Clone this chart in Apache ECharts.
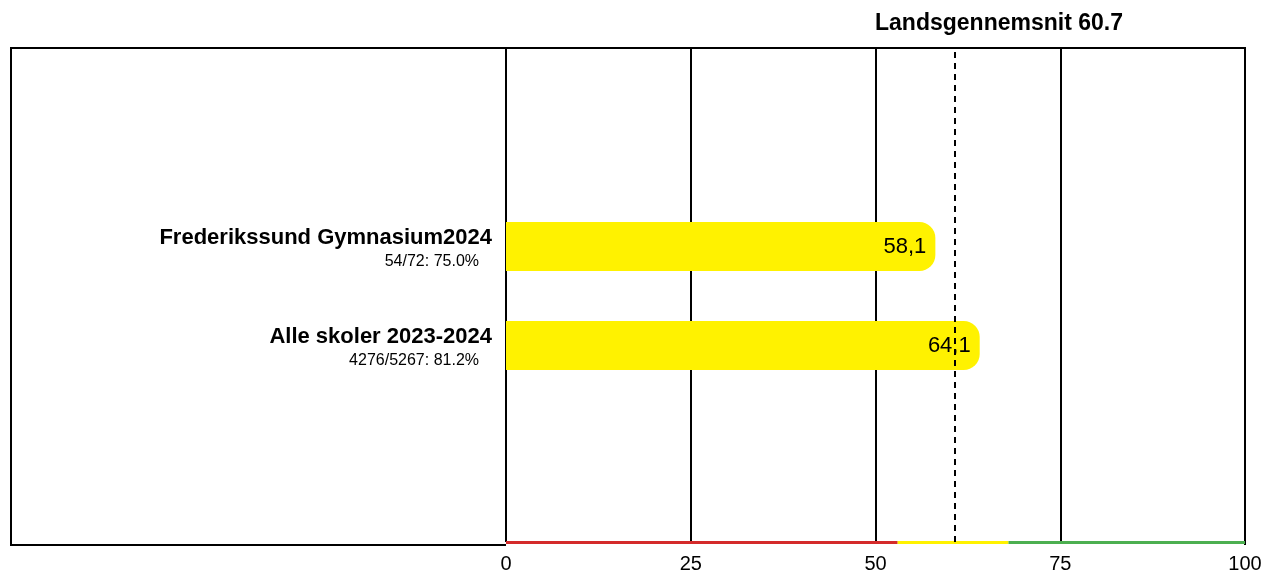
<!DOCTYPE html>
<html>
<head>
<meta charset="utf-8">
<script src="https://cdn.jsdelivr.net/npm/echarts@6/dist/echarts.min.js"></script>
<style>html,body{margin:0;padding:0;background:#fff}#c{width:1266px;height:574px}</style>
</head>
<body>
<div id="c"></div>
<script>
var categories = ['Frederikssund Gymnasium2024', 'Alle skoler 2023-2024'];
var subLabels = ['54/72: 75.0%', '4276/5267: 81.2%'];
var values = [58.1, 64.1];
var nationalAverage = 60.7;
var averageLabel = 'Landsgennemsnit 60.7';
var xTicks = [0, 25, 50, 75, 100];
var bandLimits = [0, 53, 68, 100];
var bandColors = ['#d42a2a', '#fff200', '#4caf50'];

var FONT = '"Liberation Sans", Arial, sans-serif';
var chart = echarts.init(document.getElementById('c'), null, {renderer: 'canvas'});

var bandMarks = [];
for (var i = 0; i < bandColors.length; i++) {
  bandMarks.push([
    {coord: [bandLimits[i], 0], lineStyle: {color: bandColors[i], width: 3, type: 'solid'}},
    {coord: [bandLimits[i + 1], 0]}
  ]);
}

var option = {
  animation: false,
  backgroundColor: '#fff',
  textStyle: {fontFamily: FONT},
  graphic: [
    {type: 'polyline', shape: {points: [[506, 545], [11, 545], [11, 48], [1245, 48], [1245, 545]]}, style: {fill: 'none', stroke: '#000', lineWidth: 2}, z: -10},
    {type: 'text', x: 999, y: 24, style: {text: averageLabel, fill: '#000', font: 'bold 23px ' + FONT, textAlign: 'center', textVerticalAlign: 'middle'}}
  ],
  grid: [
    {left: 506, right: 21, top: 48, bottom: 29},
    {left: 506, right: 21, top: 197, bottom: 179}
  ],
  xAxis: [
    {gridIndex: 0, type: 'value', min: xTicks[0], max: xTicks[xTicks.length - 1], interval: 25,
      axisLine: {show: false}, axisTick: {show: false},
      axisLabel: {color: '#000', fontSize: 20, fontFamily: FONT, margin: 12},
      splitLine: {show: true, showMinLine: true, showMaxLine: true, lineStyle: {color: '#000', width: 2}}},
    {gridIndex: 1, type: 'value', min: 0, max: 100, show: false}
  ],
  yAxis: [
    {gridIndex: 0, type: 'value', min: 0, max: 1, show: false},
    {gridIndex: 1, type: 'category', inverse: true, data: categories,
      axisLine: {show: false}, axisTick: {show: false}, splitLine: {show: false},
      axisLabel: {
        margin: 14, align: 'right',
        formatter: function (v, idx) { return '{t|' + v + '}\n{s|' + subLabels[idx] + '}'; },
        rich: {
          t: {fontFamily: FONT, fontWeight: 'bold', fontSize: 22, color: '#000', lineHeight: 31, align: 'right'},
          s: {fontFamily: FONT, fontSize: 16, color: '#000', lineHeight: 18, align: 'right', padding: [0, 13, 0, 0]}
        }
      }}
  ],
  series: [
    {type: 'line', xAxisIndex: 0, yAxisIndex: 0, data: [], silent: true, z: 5,
      markLine: {symbol: 'none', silent: true, animation: false, label: {show: false}, z: 5,
        data: bandMarks.concat([
          {xAxis: nationalAverage, lineStyle: {color: '#000', width: 2, type: [6, 5]}}
        ])}},
    {type: 'bar', xAxisIndex: 1, yAxisIndex: 1, data: values, barWidth: 49,
      itemStyle: {color: '#fff200', borderRadius: [0, 16, 16, 0]},
      label: {show: true, position: 'insideRight', distance: 9, fontFamily: FONT, fontSize: 22, color: '#000',
        formatter: function (p) { return String(p.value).replace('.', ','); }},
      z: 3}
  ]
};
chart.setOption(option);
</script>
</body>
</html>
